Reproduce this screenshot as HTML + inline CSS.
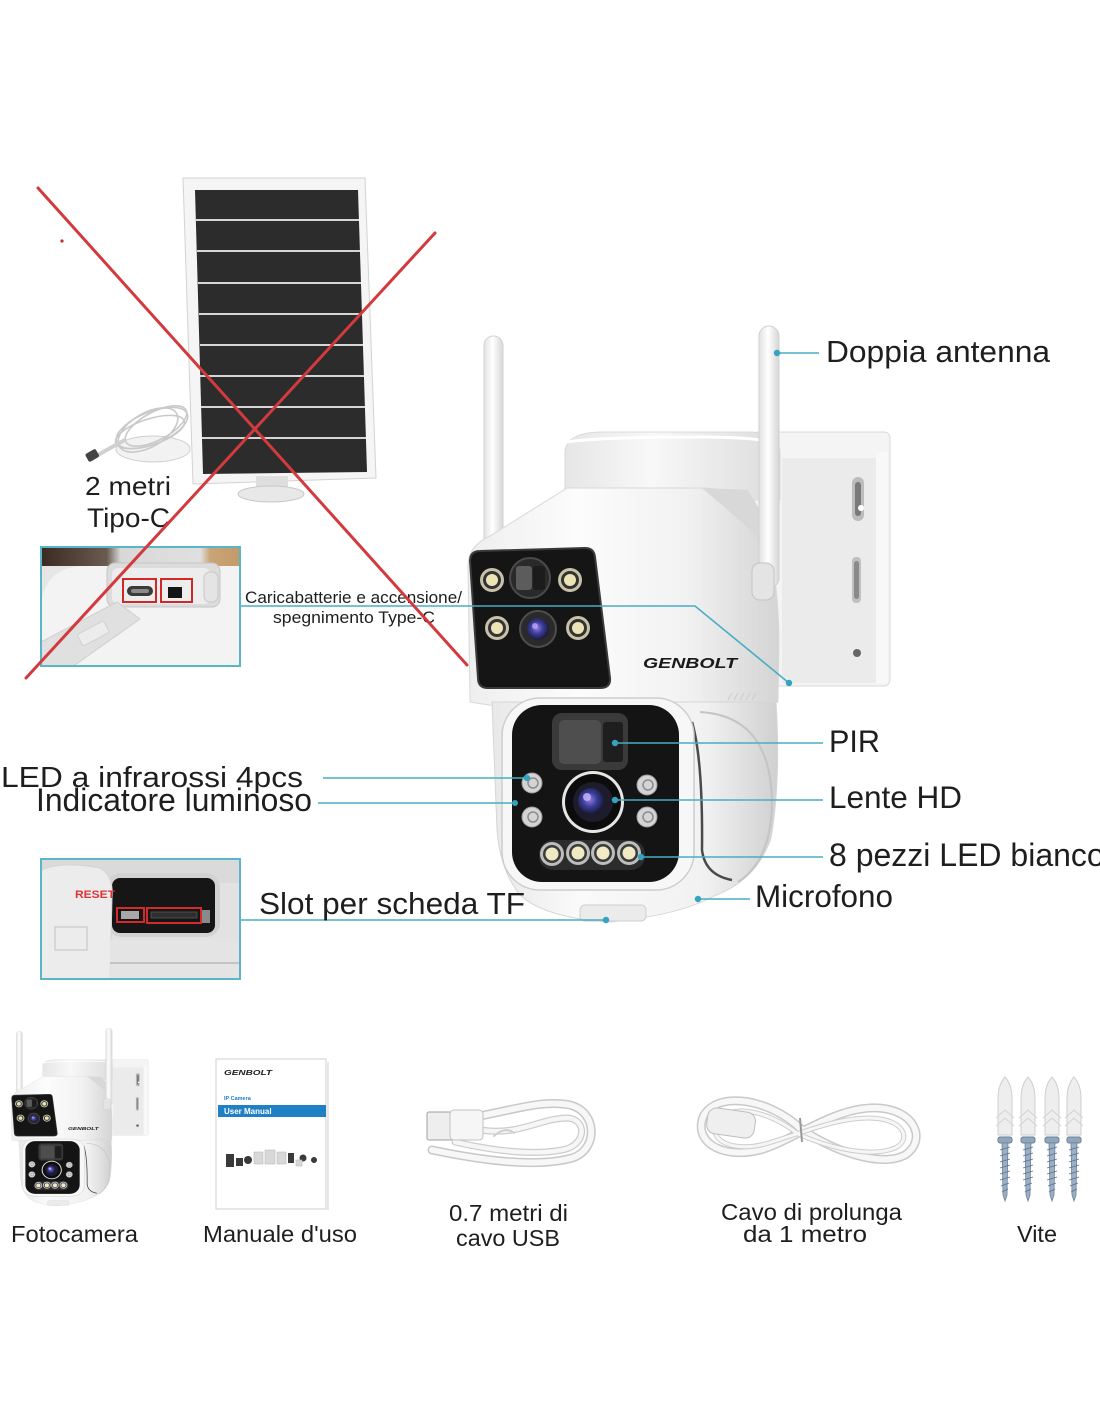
<!DOCTYPE html>
<html><head><meta charset="utf-8"><style>
html,body{margin:0;padding:0;background:#fff;}
body{width:1100px;height:1422px;overflow:hidden;}
svg{display:block;}
text{font-family:"Liberation Sans",Arial,sans-serif;fill:#1e1e1e;}
</style></head><body>
<svg width="1100" height="1422" viewBox="0 0 1100 1422" xmlns="http://www.w3.org/2000/svg">
<defs>
<linearGradient id="antG" x1="0" x2="1" y1="0" y2="0"><stop offset="0" stop-color="#e2e2e2"/><stop offset="0.45" stop-color="#ffffff"/><stop offset="1" stop-color="#d6d6d6"/></linearGradient>
<linearGradient id="bodyG" x1="0" x2="1" y1="0" y2="0"><stop offset="0" stop-color="#eeeeee"/><stop offset="0.35" stop-color="#fcfcfc"/><stop offset="0.7" stop-color="#f2f2f2"/><stop offset="1" stop-color="#d4d4d4"/></linearGradient>
<linearGradient id="lowG" x1="0" x2="1" y1="0" y2="0"><stop offset="0" stop-color="#e8e8e8"/><stop offset="0.3" stop-color="#fafafa"/><stop offset="0.75" stop-color="#f1f1f1"/><stop offset="1" stop-color="#d0d0d0"/></linearGradient>
<linearGradient id="cylG" x1="0" x2="1" y1="0" y2="0"><stop offset="0" stop-color="#e6e6e6"/><stop offset="0.4" stop-color="#f8f8f8"/><stop offset="1" stop-color="#dcdcdc"/></linearGradient>
<radialGradient id="lensG" cx="0.45" cy="0.45" r="0.6"><stop offset="0" stop-color="#9a7ce0"/><stop offset="0.45" stop-color="#3b3f9a"/><stop offset="1" stop-color="#14142a"/></radialGradient>
<linearGradient id="bandG" x1="0" x2="1" y1="0" y2="0"><stop offset="0" stop-color="#3a2a22"/><stop offset="0.33" stop-color="#6a5a50"/><stop offset="0.4" stop-color="#d8d8d8"/><stop offset="0.8" stop-color="#e0e0e0"/><stop offset="0.85" stop-color="#c9a477"/><stop offset="1" stop-color="#c49a6a"/></linearGradient>
<clipPath id="c1"><rect x="41" y="547" width="199" height="119"/></clipPath>
<clipPath id="c2"><rect x="41" y="859" width="199" height="120"/></clipPath>

<g id="cam">
  <!-- wall bracket -->
  <rect x="752" y="432" width="138" height="254" rx="6" fill="#f4f4f4" stroke="#d8d8d8"/>
  <rect x="782" y="458" width="94" height="225" fill="#ebebeb"/>
  <rect x="876" y="452" width="12" height="231" fill="#f8f8f8"/>
  <rect x="852" y="477" width="12" height="44" rx="6" fill="#bcbcbc"/>
  <rect x="855" y="482" width="6" height="34" rx="3" fill="#7a7a7a"/>
  <circle cx="861" cy="508" r="3" fill="#fff"/>
  <rect x="852" y="557" width="9" height="46" rx="4" fill="#c0c0c0"/>
  <rect x="854" y="561" width="5" height="38" rx="2.5" fill="#8a8a8a"/>
  <circle cx="857" cy="653" r="4" fill="#666"/>
  <!-- left antenna -->
  <rect x="484" y="336" width="19" height="215" rx="9.5" fill="url(#antG)" stroke="#d2d2d2"/>
  <!-- top cylinder -->
  <path d="M565,452 Q566,433 600,432 L752,432 Q779,433 780,452 L780,500 L565,500 Z" fill="url(#cylG)" stroke="#dadada"/>
  <path d="M567,442 Q600,437 700,437 Q760,437 778,444" fill="none" stroke="#ffffff" stroke-width="3"/>
  <!-- upper body -->
  <path d="M468,566 Q468,546 490,536 L567,488 L705,488 Q742,490 758,515 Q778,560 779,640 L778,702 Q700,714 620,714 Q540,714 470,702 Z" fill="url(#bodyG)" stroke="#d8d8d8"/>
  <path d="M702,488 L748,490 L760,510 L766,548 L748,528 L722,505 Z" fill="#d8d8d8"/>
  <!-- upper dark panel -->
  <path d="M480,551 L585,548 Q594,548 595,557 L610,678 Q611,688 600,688 L488,688 Q478,688 478,678 L470,561 Q470,551 480,551 Z" fill="#151515" stroke="#3a3a3a" stroke-width="2"/>
  <!-- upper LEDs -->
  <g>
    <circle cx="492" cy="580" r="12" fill="#c7c2a8"/><circle cx="492" cy="580" r="9" fill="#333"/><circle cx="492" cy="580" r="6" fill="#ece4b6"/>
    <circle cx="570" cy="580" r="12" fill="#c7c2a8"/><circle cx="570" cy="580" r="9" fill="#333"/><circle cx="570" cy="580" r="6" fill="#ece4b6"/>
    <circle cx="497" cy="628" r="12" fill="#c7c2a8"/><circle cx="497" cy="628" r="9" fill="#333"/><circle cx="497" cy="628" r="6" fill="#ece4b6"/>
    <circle cx="578" cy="628" r="12" fill="#c7c2a8"/><circle cx="578" cy="628" r="9" fill="#333"/><circle cx="578" cy="628" r="6" fill="#ece4b6"/>
  </g>
  <circle cx="530" cy="578" r="20" fill="#2a2a2a" stroke="#4a4a4a" stroke-width="2"/>
  <rect x="516" y="566" width="16" height="24" rx="3" fill="#5c5c5c"/>
  <rect x="533" y="566" width="12" height="24" rx="3" fill="#1c1c1c"/>
  <circle cx="538" cy="629" r="18" fill="#2a2a2a" stroke="#4e4e4e" stroke-width="2"/>
  <circle cx="538" cy="629" r="11" fill="url(#lensG)"/>
  <circle cx="535" cy="626" r="3" fill="#b9a6ff" opacity="0.8"/>
  <text x="643" y="668" font-size="15" font-weight="bold" font-style="italic" textLength="94" lengthAdjust="spacingAndGlyphs" style="fill:#1a1a1a">GENBOLT</text>
  <!-- vents -->
  <g stroke="#cfcfcf" stroke-width="1.2"><line x1="728" y1="700" x2="732" y2="693"/><line x1="734" y1="700" x2="738" y2="693"/><line x1="740" y1="700" x2="744" y2="693"/><line x1="746" y1="700" x2="750" y2="693"/><line x1="752" y1="700" x2="756" y2="693"/></g>
  <!-- lower body -->
  <path d="M492,702 L776,702 Q781,780 771,838 Q757,880 714,896 Q680,915 610,922 Q545,918 520,895 Q500,870 497,830 Z" fill="url(#lowG)" stroke="#d6d6d6"/>
  <path d="M700,712 Q770,716 772,800 Q772,860 738,882" fill="none" stroke="#c4c4c4" stroke-width="2"/>
  <path d="M692,722 Q703,760 702,850 Q705,875 732,880" fill="none" stroke="#4a4a4a" stroke-width="2.5"/>
  <rect x="502" y="698" width="192" height="192" rx="38" fill="#f7f7f7" stroke="#cdcdcd" stroke-width="1.5"/>
  <rect x="512" y="705" width="167" height="177" rx="30" fill="#141414"/>
  <!-- PIR -->
  <rect x="552" y="713" width="76" height="57" rx="10" fill="#3a3a3a"/>
  <rect x="559" y="720" width="42" height="44" rx="5" fill="#4e4e4e"/>
  <rect x="603" y="722" width="20" height="40" rx="3" fill="#1e1e1e"/>
  <!-- IR LEDs -->
  <g>
    <circle cx="532" cy="783" r="10" fill="#d4d4d4" stroke="#999"/><circle cx="533" cy="783" r="5" fill="none" stroke="#8c8c8c" stroke-width="1.5"/>
    <circle cx="647" cy="785" r="10" fill="#d4d4d4" stroke="#999"/><circle cx="648" cy="785" r="5" fill="none" stroke="#8c8c8c" stroke-width="1.5"/>
    <circle cx="532" cy="817" r="10" fill="#d4d4d4" stroke="#999"/><circle cx="533" cy="817" r="5" fill="none" stroke="#8c8c8c" stroke-width="1.5"/>
    <circle cx="647" cy="817" r="10" fill="#d4d4d4" stroke="#999"/><circle cx="648" cy="817" r="5" fill="none" stroke="#8c8c8c" stroke-width="1.5"/>
  </g>
  <!-- main lens -->
  <circle cx="593" cy="802" r="31" fill="#e6e6e6"/>
  <circle cx="593" cy="802" r="28" fill="#0c0c0c"/>
  <circle cx="593" cy="802" r="20" fill="#1c1c2c"/>
  <circle cx="591" cy="801" r="13" fill="url(#lensG)"/>
  <circle cx="587" cy="797" r="4" fill="#c8b6ff" opacity="0.8"/>
  <!-- bottom LED band -->
  <rect x="539" y="840" width="106" height="30" rx="14" fill="#2c2c2c"/>
  <g>
    <circle cx="552" cy="854" r="12" fill="#bdbdbd"/><circle cx="552" cy="854" r="9" fill="#3a3a3a"/><circle cx="552" cy="854" r="6.5" fill="#efe9c4"/>
    <circle cx="578" cy="853" r="12" fill="#bdbdbd"/><circle cx="578" cy="853" r="9" fill="#3a3a3a"/><circle cx="578" cy="853" r="6.5" fill="#efe9c4"/>
    <circle cx="603" cy="853" r="12" fill="#bdbdbd"/><circle cx="603" cy="853" r="9" fill="#3a3a3a"/><circle cx="603" cy="853" r="6.5" fill="#efe9c4"/>
    <circle cx="629" cy="853" r="12" fill="#bdbdbd"/><circle cx="629" cy="853" r="9" fill="#3a3a3a"/><circle cx="629" cy="853" r="6.5" fill="#efe9c4"/>
  </g>
  <rect x="580" y="905" width="66" height="16" rx="5" fill="#ebebeb" stroke="#cfcfcf"/>
  <!-- right antenna -->
  <rect x="759" y="326" width="20" height="262" rx="10" fill="url(#antG)" stroke="#d0d0d0"/>
  <rect x="752" y="563" width="22" height="37" rx="8" fill="#e4e4e4" stroke="#c4c4c4"/>
</g>
</defs>

<!-- ============ SOLAR PANEL ============ -->
<polygon points="183,178 365,178 376,478 193,484" fill="#f5f5f5" stroke="#d2d2d2"/>
<polygon points="195,190 358,190 367,472 203,474" fill="#2c2c2c"/>
<g stroke="#d6d6d6" stroke-width="2">
  <line x1="196" y1="220" x2="359" y2="220"/>
  <line x1="197" y1="251" x2="360" y2="251"/>
  <line x1="198" y1="283" x2="361" y2="283"/>
  <line x1="199" y1="314" x2="362" y2="314"/>
  <line x1="200" y1="345" x2="363" y2="345"/>
  <line x1="200" y1="376" x2="364" y2="376"/>
  <line x1="201" y1="407" x2="365" y2="407"/>
  <line x1="202" y1="438" x2="366" y2="438"/>
</g>
<rect x="256" y="476" width="32" height="12" fill="#dedede"/>
<ellipse cx="271" cy="494" rx="33" ry="8" fill="#e8e8e8" stroke="#c8c8c8"/>
<!-- coiled cable -->
<ellipse cx="153" cy="449" rx="37" ry="13" fill="#f2f2f2" stroke="#cfcfcf"/>
<g fill="none" stroke="#c9c9c9" stroke-width="1.6">
  <ellipse cx="152" cy="428" rx="38" ry="16" transform="rotate(-22 152 428)"/>
  <ellipse cx="156" cy="426" rx="34" ry="14" transform="rotate(-28 156 426)"/>
  <ellipse cx="150" cy="432" rx="36" ry="13" transform="rotate(-18 150 432)"/>
  <ellipse cx="148" cy="430" rx="33" ry="17" transform="rotate(-30 148 430)"/>
</g>
<path d="M125,440 Q110,448 98,455" stroke="#d0d0d0" stroke-width="4" fill="none"/>
<rect x="86" y="451" width="12" height="9" rx="2" fill="#444" transform="rotate(-30 92 455)"/>
<text x="85" y="495" font-size="26" textLength="86" lengthAdjust="spacingAndGlyphs">2 metri</text>
<text x="87" y="527" font-size="27" textLength="83" lengthAdjust="spacingAndGlyphs">Tipo-C</text>

<!-- ============ INSET 1 ============ -->
<g clip-path="url(#c1)">
  <rect x="41" y="547" width="199" height="119" fill="#e6e6e6"/>
  <rect x="41" y="547" width="199" height="19" fill="url(#bandG)"/>
  <path d="M41,606 Q44,568 82,566 L240,566 L240,667 L41,667 Z" fill="#f3f3f3"/>
  <rect x="107" y="563" width="113" height="44" rx="8" fill="#dcdcdc" stroke="#c6c6c6"/>
  <rect x="112" y="568" width="98" height="36" rx="6" fill="#ededed"/>
  <rect x="204" y="572" width="14" height="30" rx="6" fill="#e4e4e4" stroke="#c8c8c8"/>
  <rect x="127" y="586" width="26" height="10" rx="5" fill="#3a3a3a"/>
  <rect x="131" y="589" width="18" height="4" rx="2" fill="#8a8a8a"/>
  <rect x="168" y="587" width="14" height="11" fill="#151515"/>
  <rect x="123" y="579" width="33" height="23" fill="none" stroke="#d02828" stroke-width="2"/>
  <rect x="161" y="579" width="31" height="23" fill="none" stroke="#d02828" stroke-width="2"/>
  <polygon points="41,642 117,602 140,619 72,667 41,667" fill="#e0e0e0" stroke="#cfcfcf"/>
  <rect x="78" y="627" width="30" height="13" rx="2" fill="#ececec" stroke="#d0d0d0" transform="rotate(-28 93 633)"/>
</g>
<rect x="41" y="547" width="199" height="119" fill="none" stroke="#5ab6c6" stroke-width="2"/>
<text x="245" y="603" font-size="17" textLength="217" lengthAdjust="spacingAndGlyphs">Caricabatterie e accensione/</text>
<text x="273" y="623" font-size="17" textLength="162" lengthAdjust="spacingAndGlyphs">spegnimento Type-C</text>

<!-- ============ INSET 2 ============ -->
<g clip-path="url(#c2)">
  <rect x="41" y="859" width="199" height="120" fill="#e2e2e2"/>
  <rect x="41" y="859" width="199" height="24" fill="#dadada"/>
  <rect x="107" y="873" width="113" height="64" rx="14" fill="#d2d2d2"/>
  <rect x="112" y="878" width="103" height="55" rx="8" fill="#161616"/>
  <path d="M41,870 Q62,861 100,868 Q114,876 112,898 L110,980 L41,980 Z" fill="#ececec" stroke="#d4d4d4"/>
  <rect x="55" y="927" width="32" height="23" fill="none" stroke="#d0d0d0" stroke-width="1.5"/>
  <rect x="110" y="940" width="130" height="40" fill="#e4e4e4"/>
  <line x1="110" y1="963" x2="240" y2="963" stroke="#b8b8b8" stroke-width="1.5"/>
  <rect x="121" y="911" width="18" height="8" fill="#a8a8a8"/>
  <rect x="151" y="912" width="46" height="6" fill="#2e2e2e" stroke="#555" stroke-width="0.8"/>
  <rect x="117" y="908" width="27" height="14" fill="none" stroke="#d42a2a" stroke-width="2"/>
  <rect x="147" y="908" width="54" height="15" fill="none" stroke="#d42a2a" stroke-width="2"/>
  <rect x="202" y="910" width="8" height="13" fill="#8a8a8a"/>
  <text x="75" y="898" font-size="11" font-weight="bold" textLength="40" lengthAdjust="spacingAndGlyphs" style="fill:#e03434">RESET</text>
</g>
<rect x="41" y="859" width="199" height="120" fill="none" stroke="#5ab6c6" stroke-width="2"/>

<!-- ============ MAIN CAMERA ============ -->
<use href="#cam"/>

<!-- ============ CONNECTORS ============ -->
<g stroke="#46adc4" stroke-width="1.6" fill="none">
  <polyline points="241,606 695,606 789,683"/>
  <line x1="777" y1="353" x2="819" y2="353"/>
  <line x1="615" y1="743" x2="823" y2="743"/>
  <line x1="615" y1="800" x2="823" y2="800"/>
  <line x1="641" y1="857" x2="823" y2="857"/>
  <line x1="698" y1="899" x2="750" y2="899"/>
  <line x1="323" y1="778" x2="527" y2="778"/>
  <line x1="318" y1="803" x2="515" y2="803"/>
  <line x1="241" y1="920" x2="606" y2="920"/>
</g>
<g fill="#33a3c0">
  <circle cx="789" cy="683" r="3.2"/>
  <circle cx="777" cy="353" r="3.2"/>
  <circle cx="615" cy="743" r="3.2"/>
  <circle cx="615" cy="800" r="3.2"/>
  <circle cx="641" cy="857" r="3.2"/>
  <circle cx="698" cy="899" r="3.2"/>
  <circle cx="527" cy="778" r="3.2"/>
  <circle cx="515" cy="803" r="3"/>
  <circle cx="606" cy="920" r="3.2"/>
</g>

<!-- ============ LABELS ============ -->
<text x="826" y="362" font-size="31" textLength="224" lengthAdjust="spacingAndGlyphs">Doppia antenna</text>
<text x="829" y="752" font-size="31.5" textLength="51" lengthAdjust="spacingAndGlyphs">PIR</text>
<text x="829" y="808" font-size="31.5" textLength="133" lengthAdjust="spacingAndGlyphs">Lente HD</text>
<text x="829" y="866" font-size="32">8 pezzi LED bianco</text>
<text x="755" y="907" font-size="31.5" textLength="138" lengthAdjust="spacingAndGlyphs">Microfono</text>
<text x="1" y="787" font-size="29" textLength="302" lengthAdjust="spacingAndGlyphs">LED a infrarossi 4pcs</text>
<text x="36" y="811" font-size="32" textLength="276" lengthAdjust="spacingAndGlyphs">Indicatore luminoso</text>
<text x="259" y="914" font-size="31" textLength="266" lengthAdjust="spacingAndGlyphs">Slot per scheda TF</text>

<!-- ============ RED X ============ -->
<g stroke="#d23a3e" stroke-width="3" stroke-linecap="round">
  <line x1="38" y1="188" x2="467" y2="665"/>
  <line x1="435" y1="233" x2="26" y2="678"/>
</g>
<circle cx="62" cy="241" r="1.6" fill="#c03030"/>

<!-- ============ BOTTOM ROW ============ -->
<use href="#cam" transform="translate(-141 931) scale(0.325 0.298)"/>
<text x="11" y="1242" font-size="23.5" textLength="127" lengthAdjust="spacingAndGlyphs">Fotocamera</text>

<!-- manual -->
<rect x="216" y="1059" width="110" height="150" fill="#ffffff" stroke="#cfcfcf"/>
<rect x="326" y="1062" width="3" height="148" fill="#e8e8e8"/>
<text x="224" y="1075" font-size="7.5" font-weight="bold" font-style="italic" textLength="48" lengthAdjust="spacingAndGlyphs" style="fill:#222">GENBOLT</text>
<text x="224" y="1100" font-size="5.5" font-weight="bold" style="fill:#1f7fc4">IP Camera</text>
<rect x="218" y="1105" width="108" height="12" fill="#1f80c6"/>
<text x="224" y="1114" font-size="8" font-weight="bold" style="fill:#ffffff">User Manual</text>
<g fill="#3a3a3a">
  <rect x="226" y="1154" width="8" height="13"/>
  <rect x="236" y="1158" width="7" height="8"/>
  <circle cx="248" cy="1160" r="4"/>
  <rect x="288" y="1153" width="6" height="10"/>
  <circle cx="303" cy="1158" r="3.5"/>
  <circle cx="314" cy="1160" r="3"/>
</g>
<g fill="#d8d8d8" stroke="#bbb" stroke-width="0.6">
  <rect x="254" y="1152" width="9" height="12"/>
  <rect x="265" y="1150" width="10" height="14"/>
  <rect x="277" y="1152" width="9" height="12"/>
  <rect x="296" y="1160" width="6" height="6"/>
</g>
<text x="203" y="1242" font-size="23.5" textLength="154" lengthAdjust="spacingAndGlyphs">Manuale d'uso</text>

<!-- USB cable -->
<g fill="none" stroke-linecap="round">
  <path d="M480,1116 C520,1108 545,1100 570,1105 C598,1112 598,1150 572,1158 C535,1168 480,1160 432,1150" stroke="#c8c8c8" stroke-width="9"/>
  <path d="M480,1116 C520,1108 545,1100 570,1105 C598,1112 598,1150 572,1158 C535,1168 480,1160 432,1150" stroke="#f7f7f7" stroke-width="6"/>
  <path d="M480,1130 C520,1136 540,1118 568,1118 C588,1120 586,1146 562,1150 C530,1156 490,1150 455,1142" stroke="#cccccc" stroke-width="7"/>
  <path d="M480,1130 C520,1136 540,1118 568,1118 C588,1120 586,1146 562,1150 C530,1156 490,1150 455,1142" stroke="#f6f6f6" stroke-width="4.5"/>
  <path d="M494,1136 Q505,1126 514,1133" stroke="#cfcfcf" stroke-width="2"/>
</g>
<rect x="427" y="1112" width="26" height="28" rx="2" fill="#eeeeee" stroke="#a0a0a0"/>
<rect x="450" y="1110" width="33" height="30" rx="4" fill="#f6f6f6" stroke="#c2c2c2"/>
<text x="449" y="1221" font-size="23.5" textLength="119" lengthAdjust="spacingAndGlyphs">0.7 metri di</text>
<text x="456" y="1246" font-size="23.5" textLength="104" lengthAdjust="spacingAndGlyphs">cavo USB</text>

<!-- extension cable -->
<g fill="none" stroke-linecap="round">
  <path d="M800,1128 C770,1100 720,1090 704,1115 C692,1140 720,1160 760,1150 C790,1142 830,1110 870,1108 C915,1106 928,1140 905,1155 C880,1168 830,1150 800,1128" stroke="#c9c9c9" stroke-width="9"/>
  <path d="M800,1128 C770,1100 720,1090 704,1115 C692,1140 720,1160 760,1150 C790,1142 830,1110 870,1108 C915,1106 928,1140 905,1155 C880,1168 830,1150 800,1128" stroke="#f7f7f7" stroke-width="6"/>
  <path d="M798,1134 C765,1108 728,1104 716,1122 C708,1142 735,1152 765,1144 C800,1134 835,1118 868,1118 C905,1118 912,1140 895,1148 C870,1158 830,1148 798,1134" stroke="#cdcdcd" stroke-width="5"/>
  <path d="M798,1134 C765,1108 728,1104 716,1122 C708,1142 735,1152 765,1144 C800,1134 835,1118 868,1118 C905,1118 912,1140 895,1148 C870,1158 830,1148 798,1134" stroke="#f6f6f6" stroke-width="3"/>
</g>
<rect x="707" y="1110" width="48" height="26" rx="9" fill="#efefef" stroke="#bdbdbd" transform="rotate(8 731 1123)"/>
<line x1="800" y1="1118" x2="802" y2="1142" stroke="#999" stroke-width="2"/>
<text x="721" y="1220" font-size="23.5" textLength="181" lengthAdjust="spacingAndGlyphs">Cavo di prolunga</text>
<text x="743" y="1242" font-size="23.5" textLength="124" lengthAdjust="spacingAndGlyphs">da 1 metro</text>

<!-- screws -->
<g>
  <g id="scr">
    <path d="M998,1135 L998,1098 Q998,1085 1005,1077 Q1012,1085 1012,1098 L1012,1135 Z" fill="#eeeeee" stroke="#cfcfcf"/>
    <path d="M996,1118 L1005,1110 L1014,1118 M996,1126 L1005,1118 L1014,1126" fill="none" stroke="#d2d2d2"/>
    <rect x="998" y="1137" width="14" height="6" rx="2" fill="#8fa6bd" stroke="#6d8299"/>
    <path d="M1002,1143 L1008,1143 L1007,1195 L1005,1201 L1003,1195 Z" fill="#9bb0c6" stroke="#6d8299" stroke-width="0.8"/>
    <g stroke="#5d7189" stroke-width="0.8">
      <line x1="1000" y1="1150" x2="1010" y2="1147"/><line x1="1000" y1="1156" x2="1010" y2="1153"/>
      <line x1="1000" y1="1162" x2="1010" y2="1159"/><line x1="1000" y1="1168" x2="1010" y2="1165"/>
      <line x1="1000" y1="1174" x2="1010" y2="1171"/><line x1="1000" y1="1180" x2="1010" y2="1177"/>
      <line x1="1001" y1="1186" x2="1009" y2="1183"/><line x1="1002" y1="1192" x2="1008" y2="1189"/>
    </g>
  </g>
  <use href="#scr" transform="translate(23 0)"/>
  <use href="#scr" transform="translate(47 0)"/>
  <use href="#scr" transform="translate(69 0)"/>
</g>
<text x="1017" y="1242" font-size="23.5" textLength="40" lengthAdjust="spacingAndGlyphs">Vite</text>
</svg>
</body></html>
